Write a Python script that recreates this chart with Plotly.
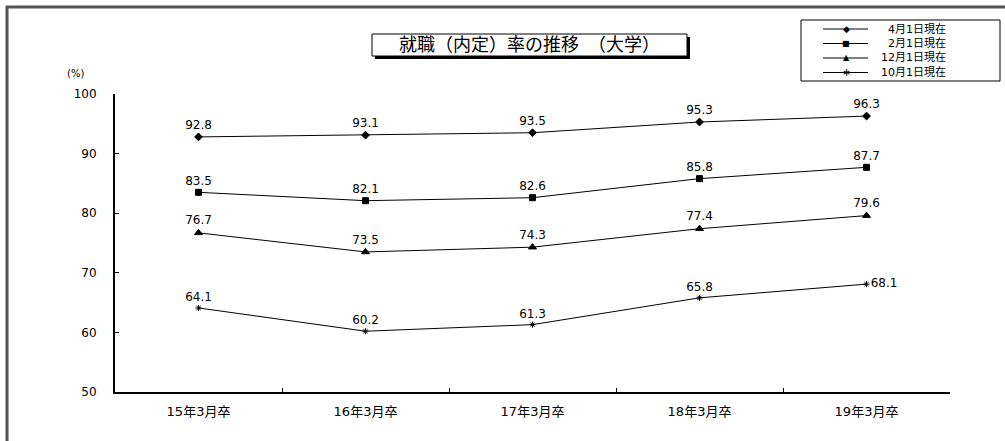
import plotly.graph_objects as go

categories = ["15年3月卒", "16年3月卒", "17年3月卒", "18年3月卒", "19年3月卒"]
series_names = ["4月1日現在", "2月1日現在", "12月1日現在", "10月1日現在"]
apr_values = [92.8, 93.1, 93.5, 95.3, 96.3]
feb_values = [83.5, 82.1, 82.6, 85.8, 87.7]
dec_values = [76.7, 73.5, 74.3, 77.4, 79.6]
oct_values = [64.1, 60.2, 61.3, 65.8, 68.1]
y_ticks = [50, 60, 70, 80, 90, 100]
title_text = "就職（内定）率の推移　（大学）"
unit_text = "(%)"

FONT = "DejaVu Sans, Noto Sans CJK JP, sans-serif"
W, H = 1005, 441
L, R, T, B = 115, 55, 94, 49
PW, PH = W - L - R, H - T - B


def px(x):
    return (x - L) / PW


def py(y):
    return (H - B - y) / PH


styles = [
    dict(symbol="diamond", size=6, glyph="◆", gsize=9),
    dict(symbol="square", size=6, glyph="■", gsize=8),
    dict(symbol="triangle-up", size=7, glyph="▲", gsize=8),
    dict(symbol="asterisk-open", size=5, glyph="∗", gsize=11),
]
all_values = [apr_values, feb_values, dec_values, oct_values]

fig = go.Figure()
for name, vals, st in zip(series_names, all_values, styles):
    positions = ["top center"] * len(vals)
    if vals is oct_values:
        positions[-1] = "middle right"
    fig.add_trace(go.Scatter(
        x=categories, y=vals, name=name, mode="lines+markers+text",
        line=dict(color="black", width=1),
        marker=dict(color="black", symbol=st["symbol"], size=st["size"],
                    line=dict(color="black", width=1)),
        text=[f"{v:.1f}" for v in vals], textposition=positions,
        textfont=dict(family=FONT, size=12, color="black"),
        cliponaxis=False, showlegend=False,
    ))

shapes = [
    # outer frame lines (top and left)
    dict(type="line", xref="paper", yref="paper", x0=px(6), x1=px(1005), y0=py(7), y1=py(7),
         line=dict(color="#555555", width=3)),
    dict(type="line", xref="paper", yref="paper", x0=px(7), x1=px(7), y0=py(6), y1=py(441),
         line=dict(color="#555555", width=3)),
    # title box shadow and box
    dict(type="rect", xref="paper", yref="paper", x0=px(375), x1=px(690), y0=py(37), y1=py(59),
         fillcolor="black", line=dict(width=0)),
    dict(type="rect", xref="paper", yref="paper", x0=px(372), x1=px(687), y0=py(34), y1=py(56),
         fillcolor="white", line=dict(color="black", width=1)),
    # legend box
    dict(type="rect", xref="paper", yref="paper", x0=px(801), x1=px(1000), y0=py(20), y1=py(81),
         fillcolor="white", line=dict(color="black", width=1)),
]

annotations = [
    dict(text=title_text, xref="paper", yref="paper", x=px(529), y=py(45),
         showarrow=False, xanchor="center", yanchor="middle",
         font=dict(family=FONT, size=18, color="black")),
    dict(text=unit_text, xref="paper", yref="paper", x=px(75), y=py(73),
         showarrow=False, xanchor="center", yanchor="middle",
         font=dict(family=FONT, size=10, color="black")),
]

# legend drawn as a keyed list (sample line, marker glyph, label)
row_y = [29, 43.5, 58, 72.5]
for name, st, ry in zip(series_names, styles, row_y):
    shapes.append(dict(type="line", xref="paper", yref="paper",
                       x0=px(823), x1=px(868), y0=py(ry), y1=py(ry),
                       line=dict(color="black", width=1)))
    annotations.append(dict(text=st["glyph"], xref="paper", yref="paper",
                            x=px(846), y=py(ry), showarrow=False,
                            xanchor="center", yanchor="middle",
                            font=dict(family="DejaVu Sans", size=st["gsize"], color="black")))
    annotations.append(dict(text=name, xref="paper", yref="paper",
                            x=px(948), y=py(ry), showarrow=False,
                            xanchor="right", yanchor="middle",
                            font=dict(family=FONT, size=11, color="black")))

fig.update_layout(
    width=W, height=H,
    margin=dict(l=L, r=R, t=T, b=B),
    paper_bgcolor="white", plot_bgcolor="white",
    font=dict(family=FONT, size=12, color="black"),
    shapes=shapes, annotations=annotations,
    showlegend=False,
    xaxis=dict(
        type="category", range=[-0.5, 4.5],
        showline=True, linecolor="black", linewidth=2,
        ticks="inside", tickson="boundaries", ticklen=4, tickcolor="black",
        showgrid=False, zeroline=False,
        tickfont=dict(family=FONT, size=13, color="black"),
        ticklabelstandoff=6,
    ),
    yaxis=dict(
        range=[50, 100], tickvals=y_ticks,
        showline=True, linecolor="black", linewidth=2,
        ticks="inside", ticklen=4, tickcolor="black",
        showgrid=False, zeroline=False,
        tickfont=dict(family=FONT, size=12, color="black"),
        ticklabelstandoff=14,
    ),
)

fig.write_html("out.html")
